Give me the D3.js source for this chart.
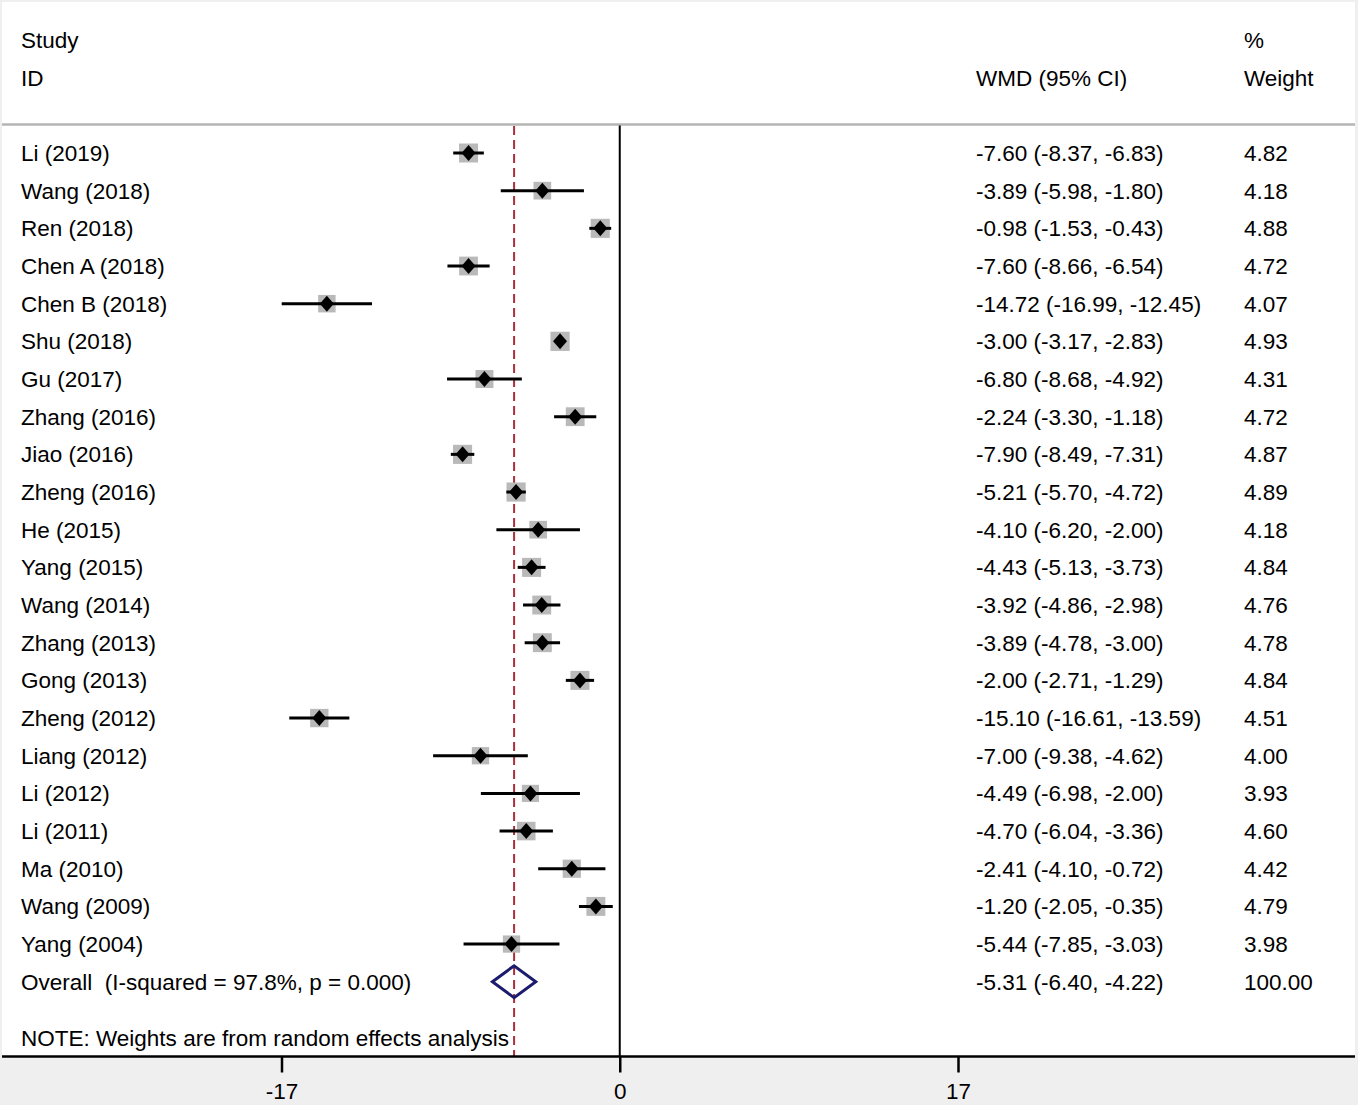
<!DOCTYPE html>
<html>
<head>
<meta charset="utf-8">
<script src="https://cdn.jsdelivr.net/npm/d3@7/dist/d3.min.js"></script>
<style>
  html, body { margin: 0; padding: 0; background: #efefef; }
  svg { display: block; }
  text { font-family: "Liberation Sans", Arial, sans-serif; fill: #000; white-space: pre; }
</style>
</head>
<body>
<svg id="chart" width="1358" height="1105"></svg>
<script>
// ---- data ----
const studies = ["Li (2019)", "Wang (2018)", "Ren (2018)", "Chen A (2018)", "Chen B (2018)", "Shu (2018)",
  "Gu (2017)", "Zhang (2016)", "Jiao (2016)", "Zheng (2016)", "He (2015)", "Yang (2015)", "Wang (2014)",
  "Zhang (2013)", "Gong (2013)", "Zheng (2012)", "Liang (2012)", "Li (2012)", "Li (2011)", "Ma (2010)",
  "Wang (2009)", "Yang (2004)"];
const wmd   = [-7.60, -3.89, -0.98, -7.60, -14.72, -3.00, -6.80, -2.24, -7.90, -5.21, -4.10, -4.43, -3.92,
  -3.89, -2.00, -15.10, -7.00, -4.49, -4.70, -2.41, -1.20, -5.44];
const lower = [-8.37, -5.98, -1.53, -8.66, -16.99, -3.17, -8.68, -3.30, -8.49, -5.70, -6.20, -5.13, -4.86,
  -4.78, -2.71, -16.61, -9.38, -6.98, -6.04, -4.10, -2.05, -7.85];
const upper = [-6.83, -1.80, -0.43, -6.54, -12.45, -2.83, -4.92, -1.18, -7.31, -4.72, -2.00, -3.73, -2.98,
  -3.00, -1.29, -13.59, -4.62, -2.00, -3.36, -0.72, -0.35, -3.03];
const weight = [4.82, 4.18, 4.88, 4.72, 4.07, 4.93, 4.31, 4.72, 4.87, 4.89, 4.18, 4.84, 4.76, 4.78, 4.84,
  4.51, 4.00, 3.93, 4.60, 4.42, 4.79, 3.98];
const overall = { label: "Overall  (I-squared = 97.8%, p = 0.000)", est: -5.31, lo: -6.40, hi: -4.22, weight: 100.00 };
const note = "NOTE: Weights are from random effects analysis";
const xTicks = [-17, 0, 17];
const headers = { study: ["Study", "ID"], ci: "WMD (95% CI)", weight: ["%", "Weight"] };

// ---- layout ----
const svg = d3.select("#chart");
const panelL = 2, panelR = 1355, panelT = 2, axisY = 1056.5, headLineY = 124.5;
const fs = 22.5;

const x = d3.scaleLinear().domain([-17, 17]).range([281.5, 958]);
const y = d3.scaleLinear().domain([0, 23]).range([153, 153 + 23 * 37.67]);
const loc = d3.formatLocale({ decimal: ".", thousands: ",", grouping: [3], currency: ["", ""], minus: "-" });
const fmt = loc.format(".2f");
const fmtTick = loc.format("d");

// panel
svg.append("rect").attr("x", panelL).attr("y", panelT).attr("width", panelR - panelL).attr("height", axisY - panelT).attr("fill", "#fff");
svg.append("line").attr("x1", panelL).attr("x2", panelR).attr("y1", headLineY).attr("y2", headLineY)
  .attr("stroke", "#b4b4b4").attr("stroke-width", 2.5);

// headers
const hdr = svg.append("g").attr("font-size", fs);
hdr.append("text").attr("x", 21).attr("y", 40).attr("dy", "0.35em").text(headers.study[0]);
hdr.append("text").attr("x", 21).attr("y", 78).attr("dy", "0.35em").text(headers.study[1]);
hdr.append("text").attr("x", 976).attr("y", 78).attr("dy", "0.35em").text(headers.ci);
hdr.append("text").attr("x", 1244).attr("y", 40).attr("dy", "0.35em").text(headers.weight[0]);
hdr.append("text").attr("x", 1244).attr("y", 78).attr("dy", "0.35em").text(headers.weight[1]);

// overall dashed line
svg.append("line").attr("x1", x(overall.est)).attr("x2", x(overall.est)).attr("y1", 126).attr("y2", axisY)
  .attr("stroke", "#a8303c").attr("stroke-width", 2).attr("stroke-dasharray", "9,5");

// null line
svg.append("line").attr("x1", x(0)).attr("x2", x(0)).attr("y1", 125.5).attr("y2", axisY)
  .attr("stroke", "#000").attr("stroke-width", 2);

// study rows
const rows = studies.map((s, i) => ({ s, i, est: wmd[i], lo: lower[i], hi: upper[i], w: weight[i] }));
const g = svg.append("g");
const k = 8.65;
g.selectAll("rect.box").data(rows).join("rect")
  .attr("x", d => x(d.est) - k * Math.sqrt(d.w) / 2)
  .attr("y", d => y(d.i) - k * Math.sqrt(d.w) / 2)
  .attr("width", d => k * Math.sqrt(d.w))
  .attr("height", d => k * Math.sqrt(d.w))
  .attr("fill", "#b9b9b9");
g.selectAll("line.ci").data(rows).join("line")
  .attr("x1", d => x(d.lo)).attr("x2", d => x(d.hi))
  .attr("y1", d => y(d.i)).attr("y2", d => y(d.i))
  .attr("stroke", "#000").attr("stroke-width", 3);
g.selectAll("path.pt").data(rows).join("path")
  .attr("d", d => {
    const cx = x(d.est), cy = y(d.i), hw = 7, hh = 8;
    return `M${cx - hw},${cy} L${cx},${cy - hh} L${cx + hw},${cy} L${cx},${cy + hh} Z`;
  })
  .attr("fill", "#000");

const t = svg.append("g").attr("font-size", fs);
t.selectAll("text.lab").data(rows).join("text")
  .attr("x", 21).attr("y", d => y(d.i)).attr("dy", "0.35em").text(d => d.s);
t.selectAll("text.ci").data(rows).join("text")
  .attr("x", 976).attr("y", d => y(d.i)).attr("dy", "0.35em")
  .text(d => `${fmt(d.est)} (${fmt(d.lo)}, ${fmt(d.hi)})`);
t.selectAll("text.w").data(rows).join("text")
  .attr("x", 1244).attr("y", d => y(d.i)).attr("dy", "0.35em").text(d => fmt(d.w));

// overall row
const oy = y(22);
svg.append("path")
  .attr("d", `M${x(overall.lo)},${oy} L${x(overall.est)},${oy - 16} L${x(overall.hi)},${oy} L${x(overall.est)},${oy + 16} Z`)
  .attr("fill", "none").attr("stroke", "#1c1c6e").attr("stroke-width", 3);
t.append("text").attr("x", 21).attr("y", oy).attr("dy", "0.35em").attr("xml:space", "preserve").text(overall.label);
t.append("text").attr("x", 976).attr("y", oy).attr("dy", "0.35em")
  .text(`${fmt(overall.est)} (${fmt(overall.lo)}, ${fmt(overall.hi)})`);
t.append("text").attr("x", 1244).attr("y", oy).attr("dy", "0.35em").text(fmt(overall.weight));

// note
t.append("text").attr("x", 21).attr("y", y(23.5)).attr("dy", "0.35em").text(note);

// axis
const axis = d3.axisBottom(x).tickValues(xTicks).tickSize(16).tickPadding(11).tickFormat(fmtTick);
const ag = svg.append("g").attr("transform", `translate(0,${axisY})`).call(axis);
ag.select(".domain").remove();
ag.selectAll(".tick line").attr("stroke", "#000").attr("stroke-width", 2.5);
ag.selectAll(".tick text").attr("font-size", fs).attr("font-family", "'Liberation Sans', Arial, sans-serif").attr("fill", "#000");
svg.append("line").attr("x1", panelL).attr("x2", panelR).attr("y1", axisY).attr("y2", axisY)
  .attr("stroke", "#000").attr("stroke-width", 2.5);
</script>
</body>
</html>
